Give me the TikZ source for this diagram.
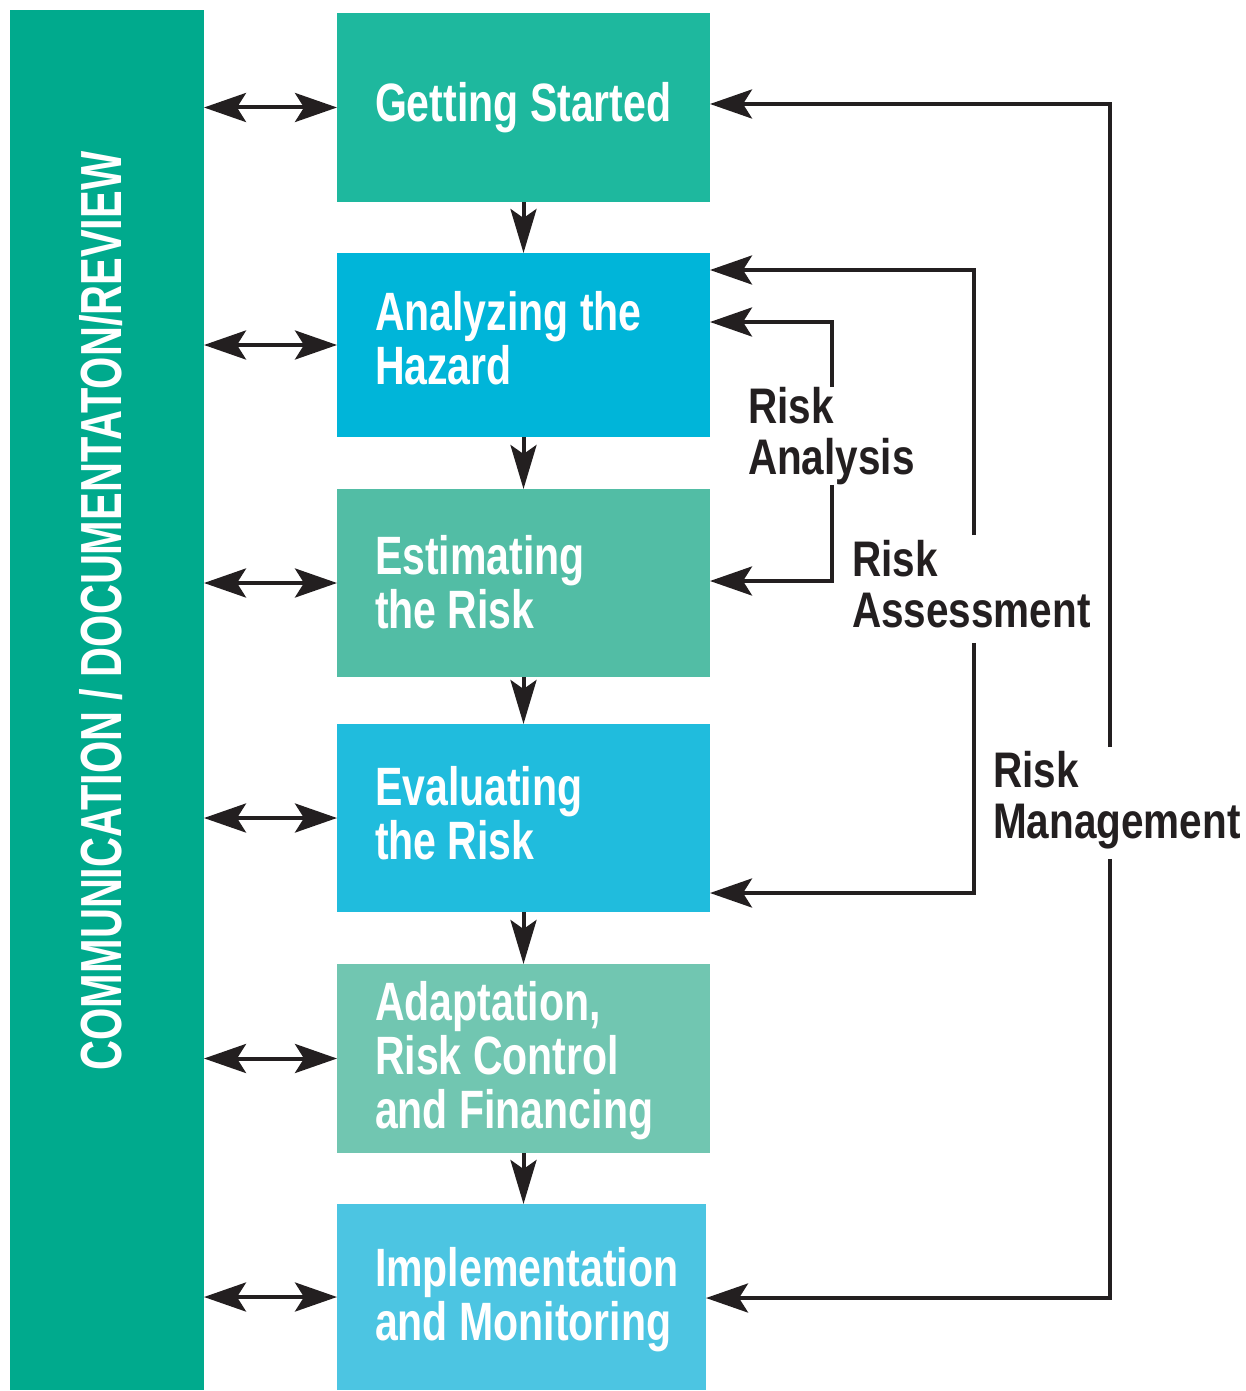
\documentclass[tikz,border=0pt]{standalone}
\usepackage{fontspec}
\setmainfont{Liberation Sans}
\newfontfamily\boxfnt[FakeStretch=0.76]{Liberation Sans}
\newfontfamily\lblfnt[FakeStretch=0.81]{Liberation Sans}
\newfontfamily\vfnt[FakeStretch=0.715]{Liberation Sans}
\usetikzlibrary{arrows.meta}
\definecolor{cbar}{HTML}{00AA8D}
\definecolor{cA}{HTML}{1EB89E}
\definecolor{cB}{HTML}{00B5D9}
\definecolor{cC}{HTML}{52BDA5}
\definecolor{cD}{HTML}{20BCDD}
\definecolor{cE}{HTML}{71C6B1}
\definecolor{cF}{HTML}{4CC5E2}
\definecolor{ink}{HTML}{231F20}
\begin{document}
\begin{tikzpicture}[x=1pt,y=-1pt,
  stagebox/.style={draw=none, inner sep=0pt, outer sep=0pt, minimum width=373pt, minimum height=189pt},
  btxt/.style={inner sep=0pt, outer sep=0pt, anchor=west, align=left, text=white,
    font=\boxfnt\bfseries\fontsize{54pt}{54pt}\selectfont},
  ltxt/.style={inner sep=0pt, outer sep=0pt, anchor=west, align=left, text=ink,
    font=\lblfnt\bfseries\fontsize{50pt}{51pt}\selectfont},
  conn/.style={draw=ink, line width=4pt, line join=miter},
  darr/.style={conn, {Stealth[length=42pt, width=29pt, inset=9pt]}-{Stealth[length=42pt, width=29pt, inset=9pt]}},
  varr/.style={conn, -{Stealth[length=44pt, width=26pt, inset=9pt]}},
  rarr/.style={conn, -{Stealth[length=42pt, width=29pt, inset=9pt]}}
]
\useasboundingbox (0,0) rectangle (1246,1391);

% left bar
\node[fill=cbar, inner sep=0pt, outer sep=0pt, minimum width=194pt, minimum height=1380pt] (bar) at (107,700) {};
\node[rotate=90, inner sep=0pt, text=white, font=\vfnt\bfseries\fontsize{58pt}{58pt}\selectfont] (vt) at (101,611) {COMMUNICATION / DOCUMENTATON/REVIEW};

% stage boxes
\node[stagebox, fill=cA] (g1) at (523.5,107.5) {};
\node[stagebox, fill=cB, minimum height=184pt] (g2) at (523.5,345) {};
\node[stagebox, fill=cC, minimum height=188pt] (g3) at (523.5,583) {};
\node[stagebox, fill=cD, minimum height=188pt] (g4) at (523.5,818) {};
\node[stagebox, fill=cE] (g5) at (523.5,1058.5) {};
\node[stagebox, fill=cF, minimum width=369pt, minimum height=186pt] (g6) at (521.5,1297) {};

% box texts
\node[btxt] (t1) at (375,107.5) {Getting Started};
\node[btxt] (t2) at (375,338.5) {Analyzing the\\Hazard};
\node[btxt] (t3) at (375,582) {Estimating\\the Risk};
\node[btxt] (t4) at (375,813.5) {Evaluating\\the Risk};
\node[btxt] (t5) at (375,1060.5) {Adaptation,\\Risk Control\\and Financing};
\node[btxt] (t6) at (375,1299.5) {Implementation\\and Monitoring};

% labels
\node[ltxt] (lblAn) at (748,436) {Risk\\Analysis};
\node[ltxt] (lblAs) at (852,584) {Risk\\Assessment};
\node[ltxt] (lblM) at (993,800) {Risk\\Management};

% left double arrows
\foreach \g in {g1,g2,g3,g4,g5,g6}{
  \draw[darr] (bar.east |- \g.west) -- (\g.west);
}

% down arrows
\draw[varr] (g1.south) -- (g2.north);
\draw[varr] (g2.south) -- (g3.north);
\draw[varr] (g3.south) -- (g4.north);
\draw[varr] (g4.south) -- (g5.north);
\draw[varr] (g5.south) -- (g5.south |- g6.north);

% risk analysis
\coordinate (an1) at (832,322);
\coordinate (an2) at (832,581);
\draw[rarr] (lblAn.north -| an1) -- (an1) -- (an1 -| g2.east);
\draw[rarr] (lblAn.south -| an2) -- (an2) -- (an2 -| g3.east);

% risk assessment
\coordinate (as1) at (974,270);
\coordinate (as2) at (974,893);
\draw[rarr] ([yshift=5pt]lblAs.north -| as1) -- (as1) -- (as1 -| g2.east);
\draw[rarr] ([yshift=-15pt]lblAs.south -| as2) -- (as2) -- (as2 -| g4.east);

% risk management
\coordinate (m1) at (1110,104);
\coordinate (m2) at (1110,1298);
\draw[rarr] ([yshift=4pt]lblM.north -| m1) -- (m1) -- (m1 -| g1.east);
\draw[rarr] ([yshift=-10pt]lblM.south -| m2) -- (m2) -- (m2 -| g6.east);
\end{tikzpicture}
\end{document}
